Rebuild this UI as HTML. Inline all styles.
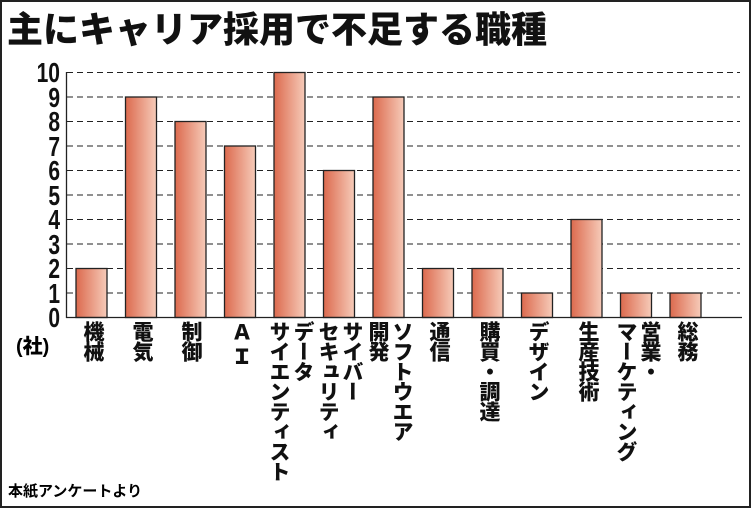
<!DOCTYPE html>
<html><head><meta charset="utf-8"><style>
body{margin:0;width:751px;height:508px;background:#fff;overflow:hidden;position:relative;font-family:"Liberation Sans","Noto Sans CJK JP",sans-serif;}
.frame{position:absolute;left:0;top:0;width:747px;height:504px;border:2px solid #222;}
.title{position:absolute;left:7px;top:1px;font-size:36px;font-weight:900;letter-spacing:0px;color:#111;}
.lab{position:absolute;top:321px;writing-mode:vertical-rl;font-size:21px;font-weight:900;line-height:24px;color:#111;transform:translateX(-50%);letter-spacing:-1px;}
.yt{position:absolute;left:0;width:60px;text-align:right;font-size:28px;font-weight:700;color:#111;line-height:25px;transform:scaleX(0.75);transform-origin:right center;}
</style></head><body>
<div class="frame"></div>
<div class="title">主にキャリア採用で不足する職種</div>
<svg width="751" height="508" style="position:absolute;left:0;top:0">
<defs><linearGradient id="g" x1="0" x2="1"><stop offset="0" stop-color="#dc6a4e"/><stop offset="1" stop-color="#f6cbb9"/></linearGradient></defs>
<g stroke="#222" stroke-width="1" stroke-dasharray="6,4">
<line x1="67" x2="740" y1="72.5" y2="72.5"/><line x1="67" x2="740" y1="97" y2="97"/><line x1="67" x2="740" y1="121.5" y2="121.5"/><line x1="67" x2="740" y1="146" y2="146"/><line x1="67" x2="740" y1="170.5" y2="170.5"/><line x1="67" x2="740" y1="195" y2="195"/><line x1="67" x2="740" y1="219.5" y2="219.5"/><line x1="67" x2="740" y1="244" y2="244"/><line x1="67" x2="740" y1="268.5" y2="268.5"/><line x1="67" x2="740" y1="293" y2="293"/>
</g>
<g fill="url(#g)" stroke="#222" stroke-width="1.3">
<rect x="76" y="268.5" width="31" height="49"/>
<rect x="125.5" y="97" width="31" height="220.5"/>
<rect x="175" y="121.5" width="31" height="196"/>
<rect x="224.5" y="146" width="31" height="171.5"/>
<rect x="274" y="72.5" width="31" height="245"/>
<rect x="323.5" y="170.5" width="31" height="147"/>
<rect x="373" y="97" width="31" height="220.5"/>
<rect x="422.5" y="268.5" width="31" height="49"/>
<rect x="472" y="268.5" width="31" height="49"/>
<rect x="521.5" y="293" width="31" height="24.5"/>
<rect x="571" y="219.5" width="31" height="98"/>
<rect x="620.5" y="293" width="31" height="24.5"/>
<rect x="670" y="293" width="31" height="24.5"/>
</g>
<line x1="66.5" x2="66.5" y1="72" y2="318" stroke="#222" stroke-width="1.3"/>
<line x1="66" x2="742" y1="317.5" y2="317.5" stroke="#222" stroke-width="1.3"/>
</svg>
<div class="yt" style="top:60px">10</div><div class="yt" style="top:84.5px">9</div><div class="yt" style="top:109px">8</div><div class="yt" style="top:133.5px">7</div><div class="yt" style="top:158px">6</div><div class="yt" style="top:182.5px">5</div><div class="yt" style="top:207px">4</div><div class="yt" style="top:231.5px">3</div><div class="yt" style="top:256px">2</div><div class="yt" style="top:280.5px">1</div><div class="yt" style="top:305px">0</div>
<div style="position:absolute;left:16px;top:330px;font-size:20px;font-weight:900;">(社)</div>
<div class="lab" style="left:92px">機械</div>
<div class="lab" style="left:141px">電気</div>
<div class="lab" style="left:190px">制御</div>
<div class="lab" style="left:240px">Ａ Ｉ</div>
<div class="lab" style="left:290px">データ<br>サイエンティスト</div>
<div class="lab" style="left:339px">サイバー<br>セキュリティ</div>
<div class="lab" style="left:389px">ソフトウエア<br>開発</div>
<div class="lab" style="left:438px">通信</div>
<div class="lab" style="left:488px">購買・調達</div>
<div class="lab" style="left:537px">デザイン</div>
<div class="lab" style="left:587px">生産技術</div>
<div class="lab" style="left:637px">営業・<br>マーケティング</div>
<div class="lab" style="left:686px">総務</div>
<div style="position:absolute;left:8px;top:480px;font-size:15px;font-weight:700;">本紙アンケートより</div>
</body></html>
